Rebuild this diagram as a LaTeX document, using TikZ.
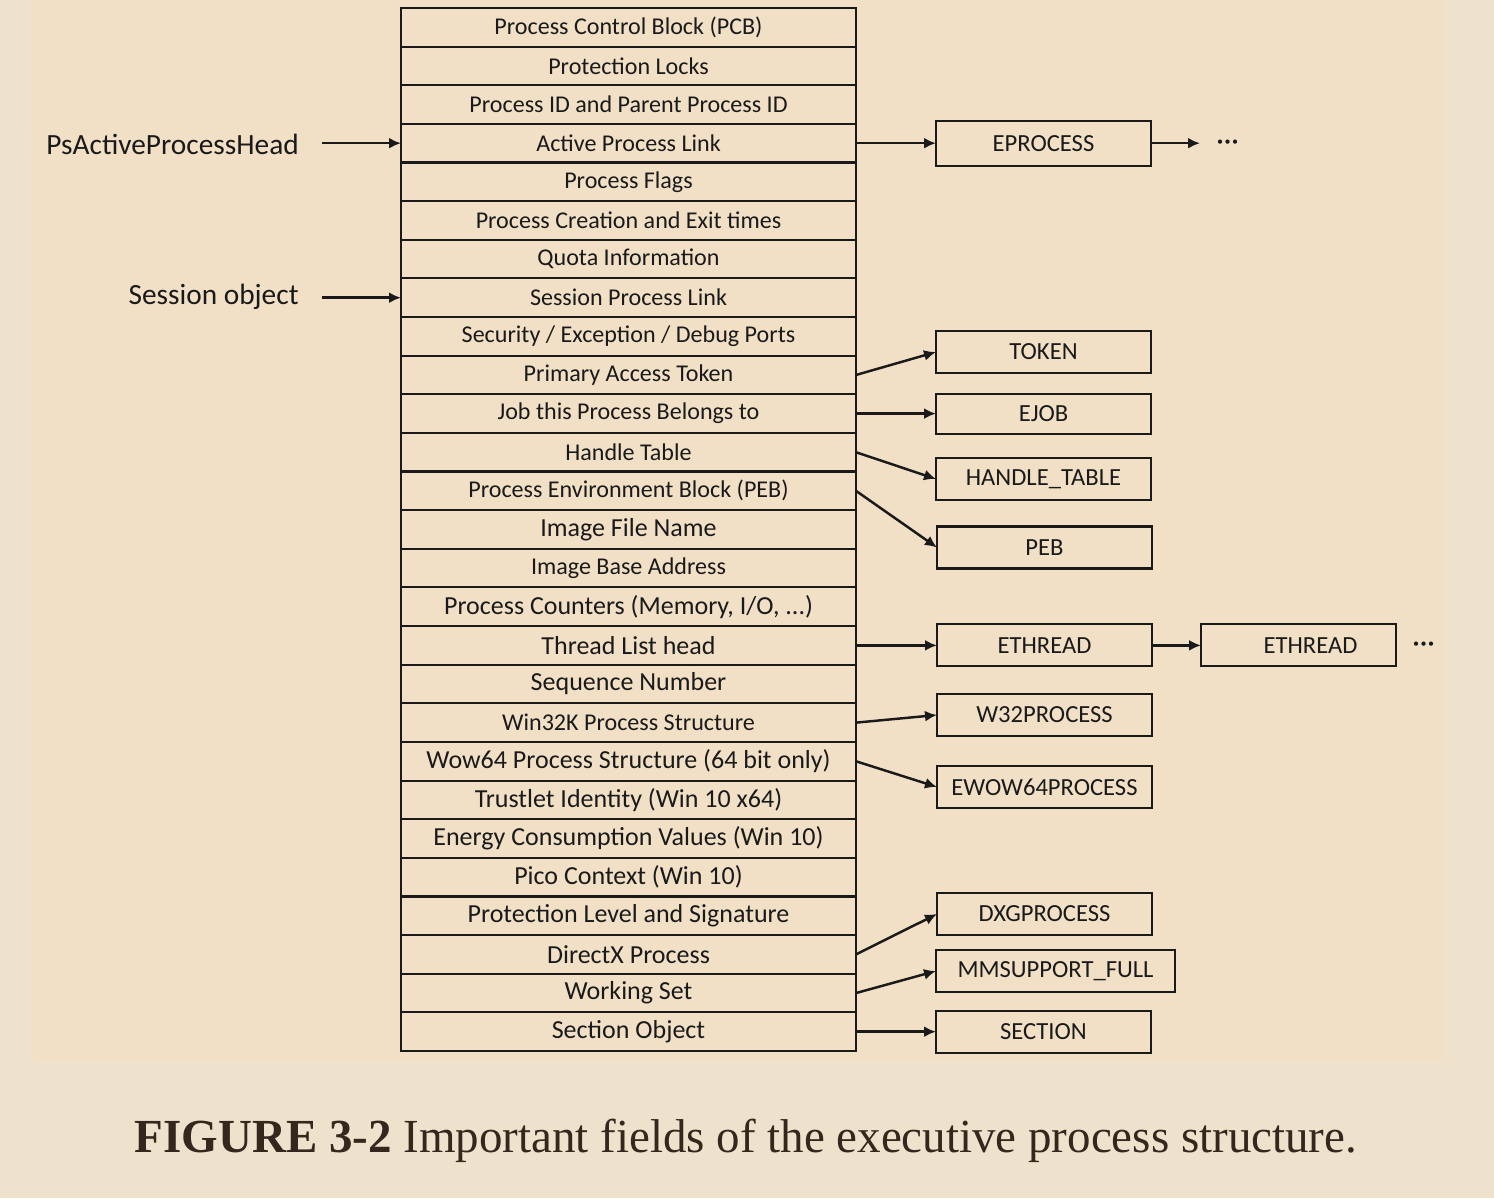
\documentclass[tikz,border=0pt]{standalone}
\usepackage{fontspec}
\setmainfont{Carlito}
\newfontfamily\captionfont[FakeStretch=0.99]{Liberation Serif}
\usetikzlibrary{positioning}
\usetikzlibrary{arrows.meta}

\definecolor{pagebg}{RGB}{239,226,204}
\definecolor{figbg}{RGB}{241,224,198}
\definecolor{ink}{RGB}{26,26,26}
\definecolor{captionink}{RGB}{52,40,30}

\tikzset{
  field/.style={draw=ink, line width=1.2pt, minimum width=9.1cm, minimum height=0.7726cm,
    inner sep=0pt, outer sep=0pt, text=ink, font=\fontsize{13.7}{16}\selectfont},
  bigfield/.style={field, font=\fontsize{14.8}{17}\selectfont},
  objbox/.style={draw=ink, line width=1.2pt, minimum width=4.3cm, minimum height=0.84cm,
    inner sep=0pt, outer sep=0pt, text=ink, font=\fontsize{14}{16}\selectfont},
  pointer/.style={draw=ink, line width=1.4pt, -{Latex[length=2.4mm,width=2.2mm]}},
  headlabel/.style={inner sep=0pt, text=ink, font=\fontsize{16.7}{19}\selectfont},
  moredots/.style={inner xsep=0.32cm, inner ysep=0pt, text height=0.85em, text depth=0pt,
    text=ink, font=\fontsize{17}{19}\selectfont}
}

\begin{document}
\begin{tikzpicture}[node distance=0pt]
	\useasboundingbox (0,0) rectangle (29.88,-23.96);
	\fill[pagebg] (0,0) rectangle (29.88,-23.96);
	\fill[figbg] (0.66,0) rectangle (28.86,-21.2);

	% the EPROCESS fields, top to bottom
	\node[field] (r1) at (12.57,-0.546) {Process Control Block (PCB)};
	\node[field, below=of r1] (r2) {Protection Locks};
	\node[field, below=of r2] (r3) {Process ID and Parent Process ID};
	\node[field, below=of r3] (r4) {Active Process Link};
	\node[field, below=of r4] (r5) {Process Flags};
	\node[field, below=of r5] (r6) {Process Creation and Exit times};
	\node[field, below=of r6] (r7) {Quota Information};
	\node[field, below=of r7] (r8) {Session Process Link};
	\node[field, below=of r8] (r9) {Security / Exception / Debug Ports};
	\node[field, below=of r9] (r10) {Primary Access Token};
	\node[field, below=of r10] (r11) {Job this Process Belongs to};
	\node[field, below=of r11] (r12) {Handle Table};
	\node[field, below=of r12] (r13) {Process Environment Block (PEB)};
	\node[bigfield, below=of r13] (r14) {Image File Name};
	\node[field, below=of r14] (r15) {Image Base Address};
	\node[bigfield, below=of r15] (r16) {Process Counters (Memory, I/O, ...)};
	\node[bigfield, below=of r16] (r17) {Thread List head};
	\node[bigfield, below=of r17] (r18) {Sequence Number};
	\node[field, below=of r18] (r19) {Win32K Process Structure};
	\node[bigfield, below=of r19] (r20) {Wow64 Process Structure (64 bit only)};
	\node[bigfield, below=of r20] (r21) {Trustlet Identity (Win 10 x64)};
	\node[bigfield, below=of r21] (r22) {Energy Consumption Values (Win 10)};
	\node[bigfield, below=of r22] (r23) {Pico Context (Win 10)};
	\node[bigfield, below=of r23] (r24) {Protection Level and Signature};
	\node[bigfield, below=of r24] (r25) {DirectX Process};
	\node[bigfield, below=of r25] (r26) {Working Set};
	\node[bigfield, below=of r26] (r27) {Section Object};

	% list heads on the left
	\node[headlabel, anchor=east] (pshead) at (5.98,-2.88) {PsActiveProcessHead};
	\node[headlabel, anchor=east] (session) at (5.98,-5.94) {Session object};
	\draw[pointer, shorten <=0.46cm] (pshead.east |- r4.west) -- (r4.west);
	\draw[pointer, shorten <=0.46cm] (session.east |- r8.west) -- (r8.west);

	% pointed-to objects
	\node[objbox, minimum height=0.9cm, right=1.6cm of r4] (eprocess) {EPROCESS};
	\node[moredots, right=0.98cm of eprocess] (more1) {···};
	\node[objbox, anchor=west] (token) at (18.72,-7.04) {TOKEN};
	\node[objbox, minimum height=0.8cm, right=1.6cm of r11] (ejob) {EJOB};
	\node[objbox, anchor=west] (handles) at (18.72,-9.58) {HANDLE\_TABLE};
	\node[objbox, anchor=west] (peb) at (18.74,-10.95) {PEB};
	\node[objbox, right=1.62cm of r17] (ethread) {ETHREAD};
	\node[objbox, minimum width=3.9cm, right=0.98cm of ethread] (ethreadb) {\hspace*{0.48cm}ETHREAD};
	\node[moredots, right=0pt of ethreadb] (more2) {···};
	\node[objbox, anchor=west] (w32) at (18.74,-14.30) {W32PROCESS};
	\node[objbox, anchor=west] (wow64) at (18.74,-15.74) {EWOW64PROCESS};
	\node[objbox, anchor=west] (dxg) at (18.74,-18.28) {DXGPROCESS};
	\node[objbox, minimum width=4.78cm, anchor=west] (mmsupport) at (18.72,-19.42) {MMSUPPORT\_FULL};
	\node[objbox, right=1.6cm of r27] (section) {SECTION};

	% pointers
	\draw[pointer] (r4.east) -- (eprocess.west);
	\draw[pointer] (eprocess.east) -- (more1.west);
	\draw[pointer] (r10.east) -- (token.west);
	\draw[pointer] (r11.east) -- (ejob.west);
	\draw[pointer] (r12.east) -- (handles.west);
	\draw[pointer] (r13.east) -- (peb.west);
	\draw[pointer] (r17.east) -- (ethread.west);
	\draw[pointer] (ethread.east) -- (ethreadb.west);
	\draw[pointer] (r19.east) -- (w32.west);
	\draw[pointer] (r20.east) -- (wow64.west);
	\draw[pointer] (r25.east) -- (dxg.west);
	\draw[pointer] (r26.east) -- (mmsupport.west);
	\draw[pointer] (r27.east) -- (section.west);

	% caption
	\node[anchor=base, text=captionink, font=\captionfont\fontsize{27}{30}\selectfont] (caption) at (14.92,-23.04)
		{\textbf{FIGURE 3-2} Important fields of the executive process structure.};
\end{tikzpicture}
\end{document}
